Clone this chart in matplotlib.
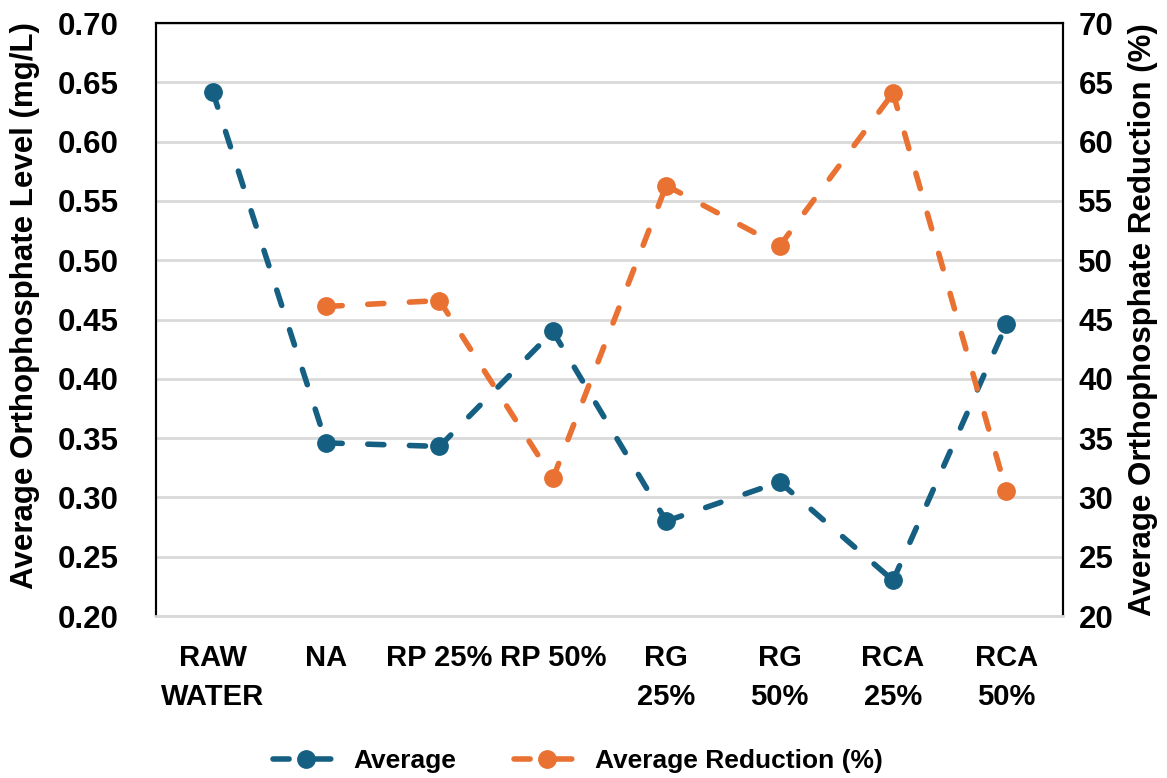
import numpy as np
import matplotlib
matplotlib.use("Agg")
import matplotlib.pyplot as plt
from matplotlib.lines import Line2D

plt.rcParams['font.family'] = ['Liberation Sans', 'DejaVu Sans']
plt.rcParams['font.weight'] = 'bold'

# Datos
muestras = ["RAW\nWATER", "NA", "RP 25%", "RP 50%", "RG\n25%", "RG\n50%", "RCA\n25%", "RCA\n50%"]
promedio = [0.642, 0.346, 0.343, 0.440, 0.280, 0.313, 0.230, 0.446]
# la reduccion no aplica al agua cruda
reduccion = [np.nan, 46.1, 46.6, 31.6, 56.3, 51.2, 64.1, 30.5]

c_azul = "#156082"
c_naranja = "#E97132"

x = np.arange(len(muestras))

fig = plt.figure(figsize=(11.67, 7.78), dpi=100)
ax = fig.add_axes([0.1337, 0.2082, 0.7773, 0.7622])
ax2 = ax.twinx()

linea = dict(lw=4, dashes=(2.9, 4.6), dash_capstyle='round')
marca = dict(ls='none', marker='o', ms=12.5)


def graficar(eje, y, color):
    # cada tramo por separado para que el patron de guiones arranque en cada punto
    for i in range(len(y) - 1):
        if np.isnan(y[i]) or np.isnan(y[i + 1]):
            continue
        eje.plot(x[i:i + 2], y[i:i + 2], color=color, zorder=3, **linea)
    eje.plot(x, y, color=color, zorder=4, **marca)


graficar(ax, np.array(promedio), c_azul)
graficar(ax2, np.array(reduccion), c_naranja)

ax.set_xlim(-0.5, 7.5)
ax.set_ylim(0.20, 0.70)
ax.set_yticks(np.arange(0.20, 0.701, 0.05))
ax.set_yticklabels([f"{v:.2f}" for v in np.arange(0.20, 0.701, 0.05)])
ax2.set_ylim(20, 70)
ax2.set_yticks(np.arange(20, 71, 5))

ax.set_xticks(x)
ax.set_xticklabels(muestras, fontsize=21, fontweight='bold', linespacing=1.5)
ax.tick_params(axis='x', length=0, pad=20)
ax.tick_params(axis='y', length=0, labelsize=22.5, pad=27)
ax2.tick_params(axis='y', length=0, labelsize=22.5, pad=11)

ax.yaxis.grid(True, color="#D9D9D9", lw=2)
ax.set_axisbelow(True)
for a in (ax, ax2):
    for s in ('left', 'right', 'top'):
        a.spines[s].set_color('black')
        a.spines[s].set_linewidth(1.5)
    a.spines['bottom'].set_color("#D9D9D9")
    a.spines['bottom'].set_linewidth(2)

ax.set_ylabel("Average Orthophosphate Level (mg/L)", fontsize=22.5, fontweight='bold')
ax.yaxis.set_label_coords(-0.128, 0.523)
ax2.set_ylabel("Average Orthophosphate Reduction (%)", fontsize=22.5, fontweight='bold')
ax2.yaxis.set_label_coords(1.0717, 0.50)

h1 = Line2D([], [], color=c_azul, marker='o', ms=12.5, **linea)
h2 = Line2D([], [], color=c_naranja, marker='o', ms=12.5, **linea)
fig.legend([h1, h2], ["Average", "Average Reduction (%)"], loc='center',
           bbox_to_anchor=(0.495, 0.022), ncol=2, frameon=False, fontsize=19,
           handlelength=2.5, columnspacing=2.2, handletextpad=0.55)

plt.savefig("out.png", dpi=100)
